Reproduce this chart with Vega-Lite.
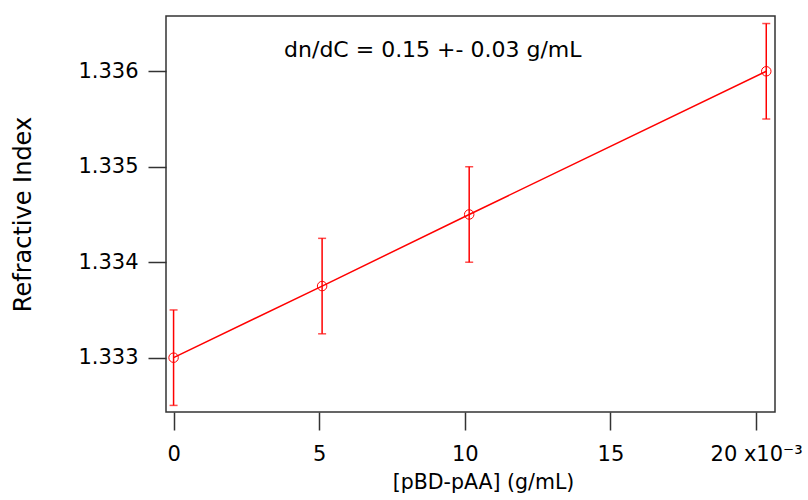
{
  "$schema": "https://vega.github.io/schema/vega-lite/v6.json",
  "autosize": {"type": "none"},
  "padding": {"left": 166, "top": 16, "right": 33, "bottom": 88},
  "width": 609,
  "height": 396,
  "background": "white",
  "config": {
    "font": "DejaVu Sans",
    "view": {"stroke": "#333333", "strokeWidth": 1.5},
    "axis": {
      "grid": false,
      "domain": false,
      "ticks": true,
      "tickSize": 18,
      "tickWidth": 1.5,
      "tickColor": "#333333",
      "labelFont": "DejaVu Sans",
      "labelColor": "#000000",
      "titleFont": "DejaVu Sans",
      "titleFontWeight": "normal",
      "titleColor": "#000000"
    }
  },
  "datasets": {
    "points": [
      {"conc": 0.0, "n": 1.333, "low": 1.3325, "high": 1.3335},
      {"conc": 5.1, "n": 1.33375, "low": 1.33325, "high": 1.33425},
      {"conc": 10.15, "n": 1.3345, "low": 1.334, "high": 1.335},
      {"conc": 20.35, "n": 1.336, "low": 1.3355, "high": 1.3365}
    ],
    "note": [
      {"conc": 8.9, "n": 1.33615, "label": "dn/dC = 0.15 +- 0.03 g/mL"}
    ]
  },
  "encoding": {
    "x": {
      "field": "conc",
      "type": "quantitative",
      "scale": {"domain": [-0.26, 20.65], "nice": false, "zero": false},
      "axis": {
        "title": "[pBD-pAA] (g/mL)",
        "values": [0, 5, 10, 15, 20],
        "labelExpr": "datum.value == 20 ? '20 x10⁻³' : format(datum.value, 'd')",
        "labelFontSize": 21,
        "labelPadding": 13,
        "labelFlush": false,
        "titleFontSize": 20.5,
        "titlePadding": 8,
        "titleX": 317
      }
    },
    "y": {
      "field": "n",
      "type": "quantitative",
      "scale": {"domain": [1.332431, 1.336579], "nice": false, "zero": false},
      "axis": {
        "title": "Refractive Index",
        "values": [1.333, 1.334, 1.335, 1.336],
        "format": ".3f",
        "labelFontSize": 21,
        "labelPadding": 10,
        "titleFontSize": 24,
        "titlePadding": 42
      }
    }
  },
  "layer": [
    {
      "data": {"name": "points"},
      "mark": {"type": "line", "color": "#ff0000", "strokeWidth": 1.5}
    },
    {
      "data": {"name": "points"},
      "mark": {"type": "rule", "color": "#ff0000", "strokeWidth": 1.5},
      "encoding": {
        "y": {"field": "low", "type": "quantitative"},
        "y2": {"field": "high"}
      }
    },
    {
      "data": {"name": "points"},
      "mark": {"type": "tick", "color": "#ff0000", "size": 8, "thickness": 1.5, "orient": "horizontal"},
      "encoding": {"y": {"field": "low", "type": "quantitative"}}
    },
    {
      "data": {"name": "points"},
      "mark": {"type": "tick", "color": "#ff0000", "size": 8, "thickness": 1.5, "orient": "horizontal"},
      "encoding": {"y": {"field": "high", "type": "quantitative"}}
    },
    {
      "data": {"name": "points"},
      "mark": {"type": "point", "shape": "circle", "filled": false, "color": "#ff0000", "size": 90, "strokeWidth": 1, "opacity": 1}
    },
    {
      "data": {"name": "note"},
      "mark": {"type": "text", "font": "DejaVu Sans", "fontSize": 22, "color": "#000000", "align": "center", "baseline": "alphabetic"},
      "encoding": {"text": {"field": "label"}}
    }
  ]
}
